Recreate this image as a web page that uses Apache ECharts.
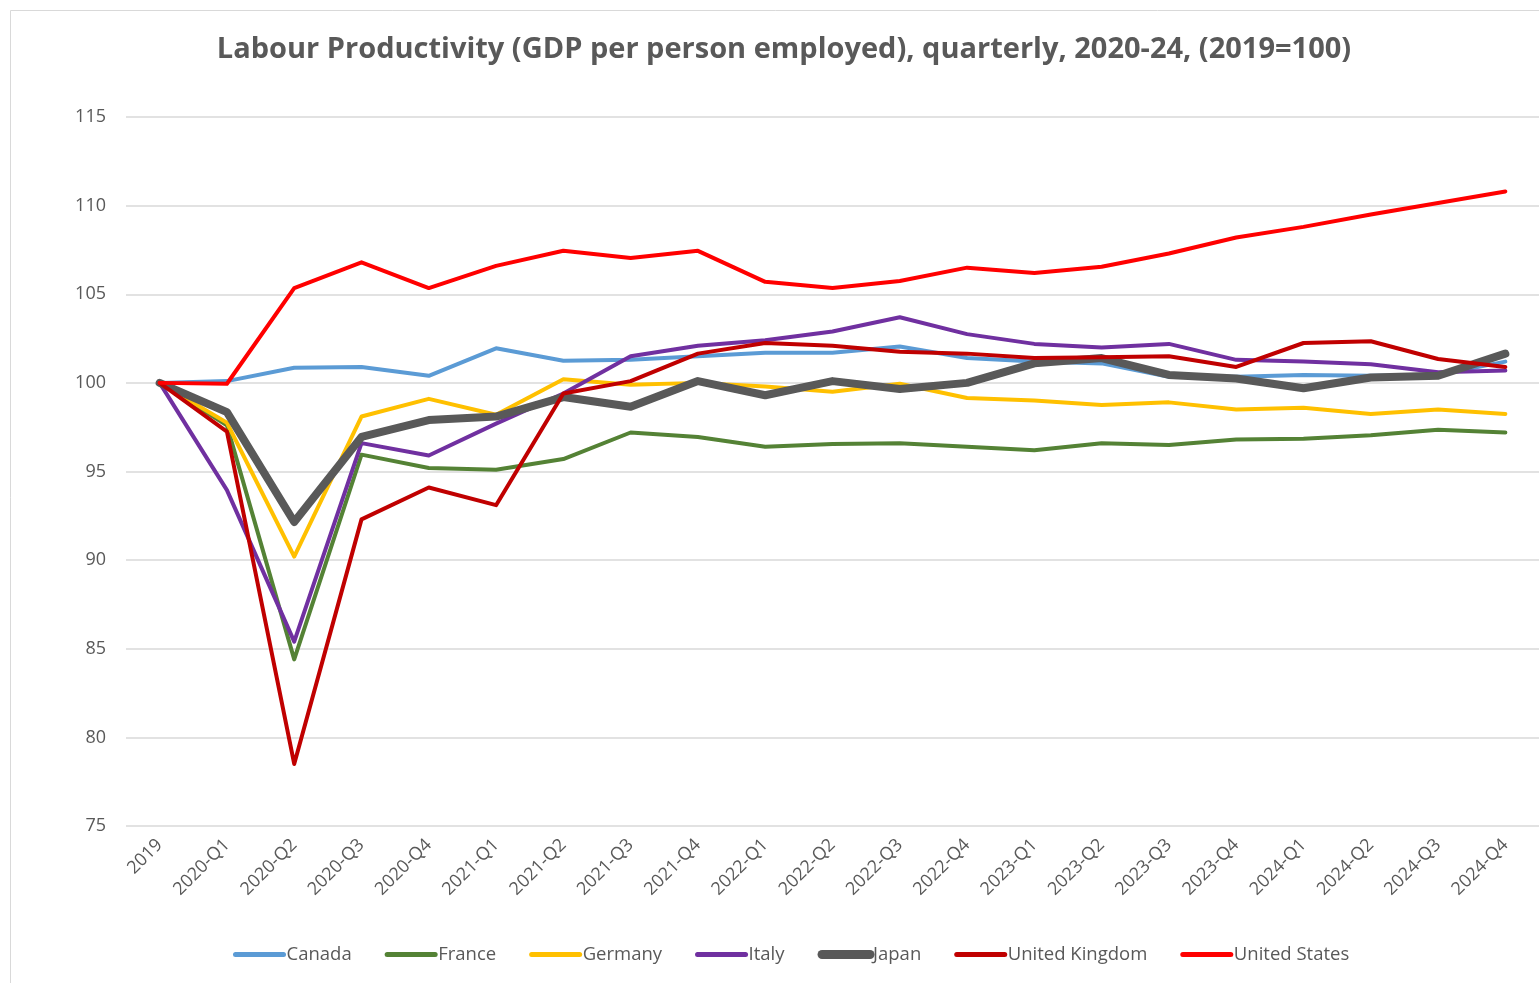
<!DOCTYPE html>
<html>
<head>
<meta charset="utf-8">
<title>Labour Productivity</title>
<script src="https://cdn.jsdelivr.net/npm/echarts@6/dist/echarts.min.js"></script>
<style>
  html, body { margin: 0; padding: 0; background: #ffffff; }
  #chart { width: 1539px; height: 983px; }
</style>
</head>
<body>
<div id="chart"></div>
<script>
// Quarters on the category axis
const categories = ['2019', '2020-Q1', '2020-Q2', '2020-Q3', '2020-Q4',
  '2021-Q1', '2021-Q2', '2021-Q3', '2021-Q4',
  '2022-Q1', '2022-Q2', '2022-Q3', '2022-Q4',
  '2023-Q1', '2023-Q2', '2023-Q3', '2023-Q4',
  '2024-Q1', '2024-Q2', '2024-Q3', '2024-Q4'];

// GDP per person employed, index 2019 = 100
const canada  = [100, 100.1, 100.85, 100.9, 100.4, 101.95, 101.25, 101.3, 101.5, 101.7, 101.7, 102.05, 101.4, 101.2, 101.1, 100.35, 100.35, 100.45, 100.4, 100.45, 101.2];
const france  = [100, 97.6, 84.4, 95.95, 95.2, 95.1, 95.7, 97.2, 96.95, 96.4, 96.55, 96.6, 96.4, 96.2, 96.6, 96.5, 96.8, 96.85, 97.05, 97.35, 97.2];
const germany = [100, 97.75, 90.2, 98.1, 99.1, 98.2, 100.2, 99.9, 100.0, 99.8, 99.5, 99.95, 99.15, 99.0, 98.75, 98.9, 98.5, 98.6, 98.25, 98.5, 98.25];
const italy   = [100, 93.95, 85.4, 96.6, 95.9, 97.7, 99.4, 101.5, 102.1, 102.4, 102.9, 103.7, 102.75, 102.2, 102.0, 102.2, 101.3, 101.2, 101.05, 100.6, 100.7];
const japan   = [100, 98.35, 92.15, 96.95, 97.9, 98.1, 99.2, 98.65, 100.1, 99.3, 100.1, 99.65, 100.0, 101.1, 101.4, 100.45, 100.25, 99.7, 100.3, 100.4, 101.65];
const uk      = [100, 97.25, 78.5, 92.3, 94.1, 93.1, 99.4, 100.1, 101.65, 102.25, 102.1, 101.75, 101.65, 101.4, 101.45, 101.5, 100.9, 102.25, 102.35, 101.35, 100.9];
const us      = [100, 99.95, 105.35, 106.8, 105.35, 106.6, 107.45, 107.05, 107.45, 105.7, 105.35, 105.75, 106.5, 106.2, 106.55, 107.3, 108.2, 108.8, 109.5, 110.15, 110.8];

// Value-axis ticks
const yTicks = [75, 80, 85, 90, 95, 100, 105, 110, 115];

const seriesDefs = [
  { name: 'Canada',         data: canada,  color: '#5b9bd5', width: 4 },
  { name: 'France',         data: france,  color: '#548235', width: 4 },
  { name: 'Germany',        data: germany, color: '#ffc000', width: 4 },
  { name: 'Italy',          data: italy,   color: '#7030a0', width: 4 },
  { name: 'Japan',          data: japan,   color: '#595959', width: 8 },
  { name: 'United Kingdom', data: uk,      color: '#c00000', width: 4 },
  { name: 'United States',  data: us,      color: '#ff0000', width: 4 }
];

const FONT = "'Open Sans', sans-serif";

const chart = echarts.init(document.getElementById('chart'), null, { renderer: 'canvas' });

chart.setOption({
  animation: false,
  backgroundColor: '#ffffff',
  graphic: [{
    type: 'rect',
    left: 8, top: 8,
    shape: { x: 0.5, y: 0.5, width: 1600, height: 1000 },
    style: { fill: 'none', stroke: '#d9d9d9', lineWidth: 1 },
    silent: true
  }],
  title: {
    text: 'Labour Productivity (GDP per person employed), quarterly, 2020-24, (2019=100)',
    left: 779,
    top: 30,
    textAlign: 'center',
    textStyle: { fontFamily: FONT, fontSize: 29, fontWeight: 'bold', color: '#595959' }
  },
  legend: {
    left: 228,
    top: 940,
    itemWidth: 48,
    itemHeight: 10,
    itemGap: 33,
    itemStyle: { opacity: 0, borderWidth: 0 },
    textStyle: { fontFamily: FONT, fontSize: 18.5, color: '#595959', padding: [0, 0, 0, -2] },
    data: seriesDefs.map(s => ({
      name: s.name,
      itemStyle: { opacity: 0, borderWidth: 0 },
      lineStyle: { width: s.width + 1, cap: 'round', color: s.color }
    }))
  },
  grid: {
    left: 126,
    top: 117,
    width: 1426,
    height: 709,
    containLabel: false
  },
  xAxis: {
    type: 'category',
    data: categories,
    boundaryGap: true,
    axisLine: { show: false },
    axisTick: { show: false },
    axisLabel: {
      rotate: 45,
      margin: 16,
      interval: 0,
      fontFamily: FONT,
      fontSize: 18,
      color: '#595959'
    },
    splitLine: { show: false }
  },
  yAxis: {
    type: 'value',
    min: yTicks[0],
    max: yTicks[yTicks.length - 1],
    interval: 5,
    axisLine: { show: false },
    axisTick: { show: false },
    axisLabel: {
      margin: 20,
      fontFamily: FONT,
      fontSize: 18,
      color: '#595959'
    },
    splitLine: { lineStyle: { color: '#d9d9d9', width: 1.5 } }
  },
  series: seriesDefs.map(s => ({
    name: s.name,
    type: 'line',
    data: s.data,
    symbol: 'none',
    color: s.color,
    lineStyle: { color: s.color, width: s.width, join: 'round', cap: 'round' },
    emphasis: { disabled: true }
  }))
});
</script>
</body>
</html>
